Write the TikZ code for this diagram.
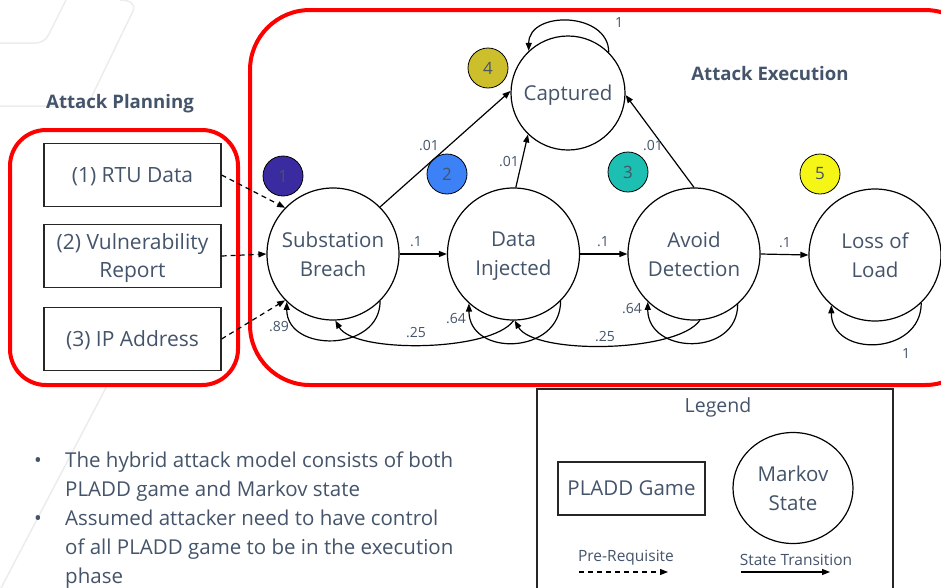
\documentclass[tikz,border=0pt]{standalone}
\usepackage{fontspec}
\setmainfont{Open Sans}
\usetikzlibrary{arrows.meta,shapes.geometric}
\definecolor{txt}{HTML}{44546A}
\definecolor{redc}{HTML}{FF0000}
\definecolor{bg}{HTML}{ECECEC}
\definecolor{cA}{HTML}{3A2CA0}
\definecolor{cB}{HTML}{3C82F6}
\definecolor{cC}{HTML}{1CBFB2}
\definecolor{cD}{HTML}{CDBE2C}
\definecolor{cE}{HTML}{F5F516}
\tikzset{
  arrtip/.style={-{Triangle[length=8pt,width=6pt]}},
  state/.style={circle,draw=black,line width=1.2pt,fill=white,minimum size=132pt,inner sep=0pt,
    align=center,text=txt,text depth=0pt,font=\fontsize{20.5}{29}\selectfont},
  game/.style={rectangle,draw=black!85,line width=1.2pt,fill=white,minimum width=177pt,minimum height=63pt,
    inner sep=0pt,align=center,text=txt,text depth=0pt,font=\fontsize{21}{28}\selectfont},
  badge/.style={circle,draw=black,line width=0.8pt,minimum size=40pt,inner sep=0pt,text=txt,font=\fontsize{17}{20}\selectfont},
  trans/.style={arrtip,line width=1.2pt,black},
  prereq/.style={arrtip,line width=1.2pt,black,dash pattern=on 5pt off 4pt},
  prob/.style={text=txt,font=\fontsize{14}{16}\selectfont,inner sep=0pt},
  heading/.style={text=txt,font=\fontsize{18.6}{24}\selectfont\bfseries,inner sep=0pt},
  redbox/.style={draw=redc,line width=4pt,fill=white},
  bullettext/.style={text=txt,font=\fontsize{20.5}{29}\selectfont,anchor=base west,inner sep=0pt},
  bgline/.style={draw=bg,line width=1.5pt},
  legtext/.style={text=txt,font=\fontsize{15.5}{18}\selectfont,inner sep=0pt}
}
\begin{document}
\begin{tikzpicture}[x=1pt,y=-1pt]
\useasboundingbox (0,0) rectangle (941,587);
% faint slide decoration
\draw[bgline] (0,43) -- (34,43) .. controls (42,43) and (46,40) .. (49,34) -- (66,0);
\draw[bgline] (120,0) .. controls (130,0) and (136,4) .. (133,11) -- (92,96) .. controls (88,104) and (84,106) .. (76,106) -- (0,106);
\draw[bgline] (110,380) -- (0,590);
% red frames
\draw[redbox,rounded corners=36pt] (10,130) rectangle (238,385);
\begin{scope}
\clip (0,0) rectangle (941,587);
\draw[redbox,rounded corners=60pt] (250,10) rectangle (985,385);
\end{scope}
% titles
\node[heading] (tplan) at (120,104) {Attack Planning};
\node[heading] (texec) at (770,74) {Attack Execution};
% PLADD games
\node[game] (g1) at (132.5,175) {(1) RTU Data};
\node[game] (g2) at (132.5,256) {(2) Vulnerability\\Report};
\node[game] (g3) at (132.5,339) {(3) IP Address};
% states
\node[state] (sb) at (333,254) {Substation\\Breach};
\node[state] (di) at (513.5,254) {Data\\Injected};
\node[state] (ad) at (694,254) {Avoid\\Detection};
\node[state] (ll) at (875,255) {Loss of\\Load};
\node[state,minimum size=114pt] (cap) at (568,93) {Captured};
% badges
\node[badge,fill=cA] (b1) at (283,176) {1};
\node[badge,fill=cB] (b2) at (447,174) {2};
\node[badge,fill=cC] (b3) at (628,172) {3};
\node[badge,fill=cD] (b4) at (488,68) {4};
\node[badge,fill=cE] (b5) at (820,174) {5};
% prerequisites
\draw[prereq] (g1.east) -- (sb.136);
\draw[prereq] (g2.east) -- (sb.180);
\draw[prereq] (g3.east) -- (sb.-136);
% transitions
\draw[trans] (sb.east) -- (di.west);
\draw[trans] (di.east) -- (ad.west);
\draw[trans] (ad.east) -- (ll.west);
\draw[trans] (sb.45) -- (cap.178);
\draw[trans] (di.88) -- (cap.-134);
\draw[trans] (ad.90) -- (cap.-2);
\draw[trans] (cap.45) to[out=90,in=90,looseness=1.3] (cap.133);
\draw[trans] (sb.-45) to[out=-90,in=-90,looseness=1.4] (sb.-134);
\draw[trans] (di.-45) to[out=-90,in=-90,looseness=1.5] (di.-132);
\draw[trans] (ad.-49) to[out=-90,in=-90,looseness=1.5] (ad.-134);
\draw[trans] (ll.-46) to[out=-90,in=-90,looseness=1.5] (ll.-131);
\draw[trans] (di.-90) to[out=-125,in=-60,looseness=0.55] (sb.-88);
\draw[trans] (ad.-85) to[out=-125,in=-60,looseness=0.55] (di.-89);
% probabilities
\node[prob] (p1) at (429,146) {.01};
\node[prob] (p2) at (509,162) {.01};
\node[prob] (p3) at (653,146) {.01};
\node[prob] (p4) at (619,22) {1};
\node[prob] (p5) at (416,242) {.1};
\node[prob] (p6) at (603,242) {.1};
\node[prob] (p7) at (785,243) {.1};
\node[prob] (p8) at (279,327) {.89};
\node[prob] (p9) at (416,333) {.25};
\node[prob] (p10) at (456,319) {.64};
\node[prob] (p11) at (605,337) {.25};
\node[prob] (p12) at (632,309) {.64};
\node[prob] (p13) at (906,353) {1};
% bullets
\node[bullettext] (d1) at (34,467) {•};
\node[bullettext] (l1) at (65,467) {The hybrid attack model consists of both};
\node[bullettext] (l2) at (65,496) {PLADD game and Markov state};
\node[bullettext] (d2) at (34,525) {•};
\node[bullettext] (l3) at (65,525) {Assumed attacker need to have control};
\node[bullettext] (l4) at (65,554) {of all PLADD game to be in the execution};
\node[bullettext] (l5) at (65,583) {phase};
% legend
\draw[draw=black!85,line width=1.2pt] (537,620) -- (537,389) -- (893,389) -- (893,620);
\node[text=txt,font=\fontsize{19.5}{22}\selectfont,inner sep=0pt] (leg) at (718,407) {Legend};
\node[game,minimum width=147pt,minimum height=53pt,font=\fontsize{20.5}{24}\selectfont] (lg) at (631.5,488.5) {PLADD Game};
\node[state,ellipse,minimum width=120pt,minimum height=111pt] (ls) at (793,488) {Markov\\State};
\node[legtext] (lpr) at (626,558) {Pre-Requisite};
\node[legtext] (lst) at (796,560) {State Transition};
\coordinate (a1) at (579,572); \coordinate (a2) at (668,572);
\coordinate (a3) at (741,572); \coordinate (a4) at (830,572);
\draw[prereq] (a1) -- (a2);
\draw[trans] (a3) -- (a4);
\end{tikzpicture}
\end{document}
